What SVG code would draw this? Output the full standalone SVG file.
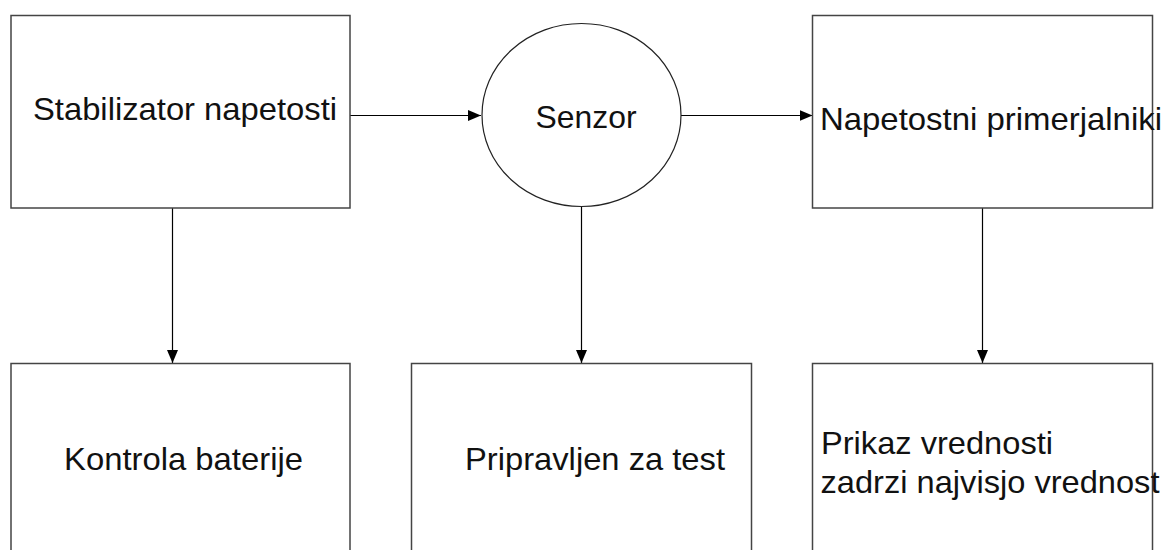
<svg xmlns="http://www.w3.org/2000/svg" width="1167" height="550" viewBox="0 0 1167 550">
<style>
.box{fill:#fff;stroke:#444;stroke-width:1.5}
.ell{fill:#fff;stroke:#222;stroke-width:1.2}
.lbl{font-family:"Liberation Sans",Arial,sans-serif;font-size:31.5px;fill:#111}
.con{stroke:#000;stroke-width:1.2;fill:none}
</style>
<defs>
<marker id="arr" markerUnits="userSpaceOnUse" markerWidth="14" markerHeight="11" refX="13" refY="5.5" orient="auto">
<path d="M0,0 L13,5.5 L0,11 z" fill="#000"/>
</marker>
</defs>
<rect width="1167" height="550" fill="#fff"/>
<g id="connectors">
<line class="con" x1="350" y1="115.5" x2="481" y2="115.5" marker-end="url(#arr)"/>
<line class="con" x1="681" y1="115.5" x2="812.5" y2="115.5" marker-end="url(#arr)"/>
<line class="con" x1="172.5" y1="208" x2="172.5" y2="363" marker-end="url(#arr)"/>
<line class="con" x1="581.5" y1="206.5" x2="581.5" y2="363" marker-end="url(#arr)"/>
<line class="con" x1="982.5" y1="208" x2="982.5" y2="363" marker-end="url(#arr)"/>
</g>
<g id="stabilizator">
<rect class="box" x="11" y="15.5" width="339" height="192.5"/>
<text class="lbl" x="33" y="120" textLength="304" lengthAdjust="spacingAndGlyphs">Stabilizator napetosti</text>
</g>
<g id="senzor">
<ellipse class="ell" cx="581.5" cy="115" rx="99.5" ry="91.5"/>
<text class="lbl" x="535.5" y="128" textLength="101" lengthAdjust="spacingAndGlyphs">Senzor</text>
</g>
<g id="primerjalniki">
<rect class="box" x="812.5" y="15.5" width="340" height="192.5"/>
<text class="lbl" x="820" y="129.5" textLength="342" lengthAdjust="spacingAndGlyphs">Napetostni primerjalniki</text>
</g>
<g id="kontrola">
<rect class="box" x="11" y="363.5" width="339" height="200"/>
<text class="lbl" x="64" y="469.5" textLength="239" lengthAdjust="spacingAndGlyphs">Kontrola baterije</text>
</g>
<g id="pripravljen">
<rect class="box" x="411.5" y="363.5" width="340" height="200"/>
<text class="lbl" x="465" y="469.5" textLength="260" lengthAdjust="spacingAndGlyphs">Pripravljen za test</text>
</g>
<g id="prikaz">
<rect class="box" x="812.5" y="363.5" width="340" height="200"/>
<text class="lbl" x="821" y="453.5" textLength="232" lengthAdjust="spacingAndGlyphs">Prikaz vrednosti</text>
<text class="lbl" x="820.5" y="492.5" textLength="339" lengthAdjust="spacingAndGlyphs">zadrzi najvisjo vrednost</text>
</g>
</svg>
